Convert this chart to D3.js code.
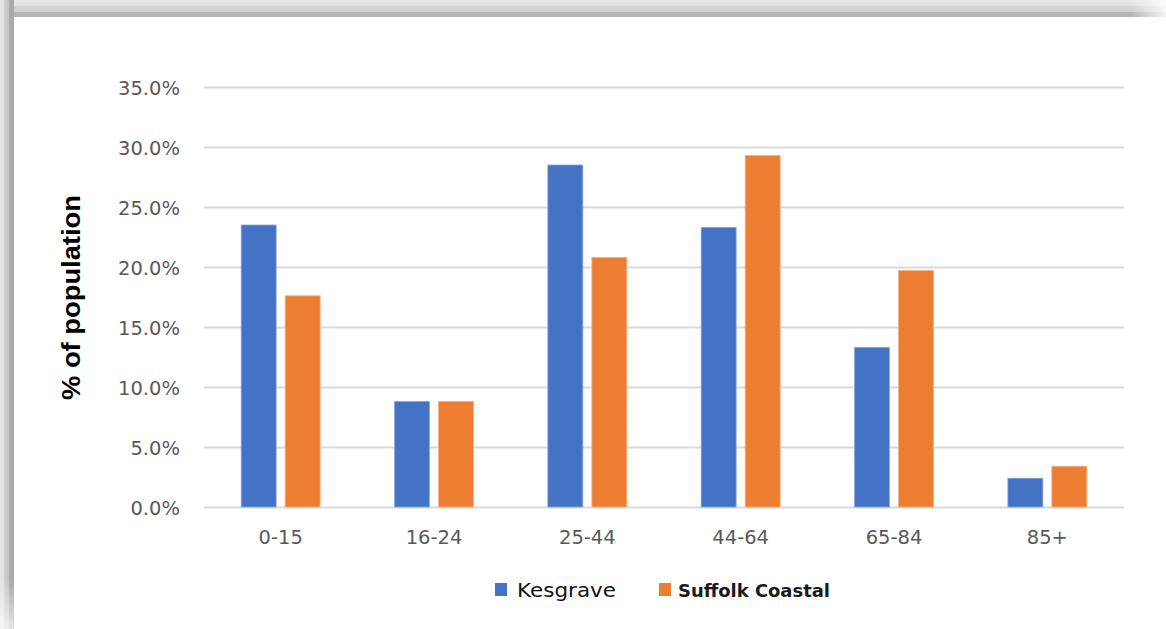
<!DOCTYPE html>
<html>
<head>
<meta charset="utf-8">
<script src="https://cdn.jsdelivr.net/npm/d3@7"></script>
<style>
  html, body { margin: 0; padding: 0; background: #fff; }
  svg { display: block; }
</style>
</head>
<body>
<svg id="chart" width="1166" height="629"></svg>
<script>
const categories = ["0-15", "16-24", "25-44", "44-64", "65-84", "85+"];
const seriesNames = ["Kesgrave", "Suffolk Coastal"];
const kesgrave = [23.5, 8.8, 28.5, 23.3, 13.3, 2.4];
const suffolkCoastal = [17.6, 8.8, 20.8, 29.3, 19.7, 3.4];
const yTicks = [0, 5, 10, 15, 20, 25, 30, 35];
const colors = ["#4472C4", "#ED7D31"];

const seriesValues = [kesgrave, suffolkCoastal];

const svg = d3.select("#chart");
const W = 1166, H = 629;
const margin = { left: 204, right: 1124, top: 87, bottom: 507 };

// frame (shadowed border at top and left)
const defs = svg.append("defs");
const gTop = defs.append("linearGradient").attr("id", "gTop").attr("x1", 0).attr("y1", 0).attr("x2", 0).attr("y2", 1);
[[0, "#e8e8e8"], [0.33, "#e2e2e2"], [0.36, "#d4d4d4"], [0.68, "#cfcfcf"], [0.71, "#b6b6b6"], [1, "#b3b3b3"]]
  .forEach(([o, c]) => gTop.append("stop").attr("offset", o).attr("stop-color", c));
const gLeft = defs.append("linearGradient").attr("id", "gLeft").attr("x1", 0).attr("y1", 0).attr("x2", 1).attr("y2", 0);
[[0, "#e6e6e6"], [0.3, "#dedede"], [0.33, "#cccccc"], [0.64, "#c6c6c6"], [0.67, "#ababab"], [1, "#a8a8a8"]]
  .forEach(([o, c]) => gLeft.append("stop").attr("offset", o).attr("stop-color", c));
const gFadeR = defs.append("linearGradient").attr("id", "gFadeR").attr("x1", 0).attr("y1", 0).attr("x2", 1).attr("y2", 0);
gFadeR.append("stop").attr("offset", 0).attr("stop-color", "#fff").attr("stop-opacity", 0);
gFadeR.append("stop").attr("offset", 1).attr("stop-color", "#fff").attr("stop-opacity", 0.85);
const gFadeB = defs.append("linearGradient").attr("id", "gFadeB").attr("x1", 0).attr("y1", 0).attr("x2", 0).attr("y2", 1);
gFadeB.append("stop").attr("offset", 0).attr("stop-color", "#fff").attr("stop-opacity", 0);
gFadeB.append("stop").attr("offset", 1).attr("stop-color", "#fff").attr("stop-opacity", 0.7);

svg.append("rect").attr("x", 0).attr("y", 0).attr("width", W).attr("height", H).attr("fill", "#fff");
svg.append("rect").attr("x", 0).attr("y", 0).attr("width", W).attr("height", 17).attr("fill", "url(#gTop)");
svg.append("rect").attr("x", 0).attr("y", 0).attr("width", 14).attr("height", H).attr("fill", "url(#gLeft)");
svg.append("rect").attr("x", 1130).attr("y", 0).attr("width", 36).attr("height", 17).attr("fill", "url(#gFadeR)");
svg.append("rect").attr("x", 0).attr("y", 580).attr("width", 14).attr("height", 49).attr("fill", "url(#gFadeB)");
svg.append("rect").attr("x", 14).attr("y", 17).attr("width", W - 14).attr("height", H - 17).attr("fill", "#fff");

// scales
const x0 = d3.scaleBand().domain(categories).range([margin.left, margin.right]).paddingInner(0).paddingOuter(0);
const x1 = d3.scaleBand().domain(seriesNames).range([0, x0.bandwidth()]).paddingInner(0.2045).paddingOuter(0.845);
const y = d3.scaleLinear().domain([0, 35]).range([margin.bottom, margin.top]);

// gridlines
const yAxis = d3.axisLeft(y).tickValues(yTicks)
  .tickSize(-(margin.right - margin.left))
  .tickPadding(24)
  .tickFormat(d => d.toFixed(1) + "%");
const gy = svg.append("g").attr("transform", `translate(${margin.left},0)`).call(yAxis);
gy.select(".domain").remove();
gy.selectAll(".tick line").attr("stroke", "#d9d9d9").attr("stroke-width", 2);
gy.selectAll(".tick text")
  .attr("fill", "#595959")
  .attr("font-family", "DejaVu Sans, sans-serif")
  .attr("font-size", "19.5px")
  .attr("dy", "0.36em");

// bars
const groups = svg.append("g").selectAll("g")
  .data(categories)
  .join("g")
  .attr("transform", d => `translate(${x0(d)},0)`);

groups.selectAll("rect")
  .data((d, i) => seriesNames.map((s, j) => ({ s, j, v: seriesValues[j][i] })))
  .join("rect")
  .attr("x", d => x1(d.s))
  .attr("width", x1.bandwidth())
  .attr("y", d => y(d.v))
  .attr("height", d => y(0) - y(d.v))
  .attr("fill", d => colors[d.j])
  .attr("stroke", d => d.j === 0 ? "#8ea9dd" : "#f5b08a")
  .attr("stroke-width", 0.8);

// x axis labels
const xAxis = d3.axisBottom(x0).tickSize(0).tickPadding(0);
const gx = svg.append("g").attr("transform", `translate(0,${margin.bottom})`).call(xAxis);
gx.select(".domain").remove();
gx.selectAll(".tick text")
  .attr("fill", "#595959")
  .attr("font-family", "DejaVu Sans, sans-serif")
  .attr("font-size", "19.5px")
  .attr("y", 36.5)
  .attr("dy", 0);

// y title
svg.append("text")
  .attr("transform", `translate(80,297.5) rotate(-90)`)
  .attr("text-anchor", "middle")
  .attr("font-family", "Liberation Sans, Arial, sans-serif")
  .attr("font-weight", "bold")
  .attr("font-size", "25px")
  .attr("fill", "#000")
  .attr("textLength", 205)
  .attr("lengthAdjust", "spacingAndGlyphs")
  .text("% of population");

// legend
const legend = svg.append("g");
const legendItems = [
  { name: seriesNames[0], color: colors[0], sx: 495, tx: 517, w: 99, font: "DejaVu Sans, sans-serif", weight: "normal", size: "20px", fill: "#111" },
  { name: seriesNames[1], color: colors[1], sx: 659, tx: 678, w: 152, font: "DejaVu Sans, sans-serif", weight: "bold", size: "17.5px", fill: "#1a1a1a" }
];
legendItems.forEach(it => {
  legend.append("rect").attr("x", it.sx).attr("y", 583).attr("width", 12).attr("height", 13).attr("fill", it.color);
  legend.append("text")
    .attr("x", it.tx).attr("y", 596.5)
    .attr("font-family", it.font)
    .attr("font-weight", it.weight)
    .attr("font-size", it.size)
    .attr("fill", it.fill)
    .attr("textLength", it.w)
    .attr("lengthAdjust", "spacingAndGlyphs")
    .text(it.name);
});
</script>
</body>
</html>
